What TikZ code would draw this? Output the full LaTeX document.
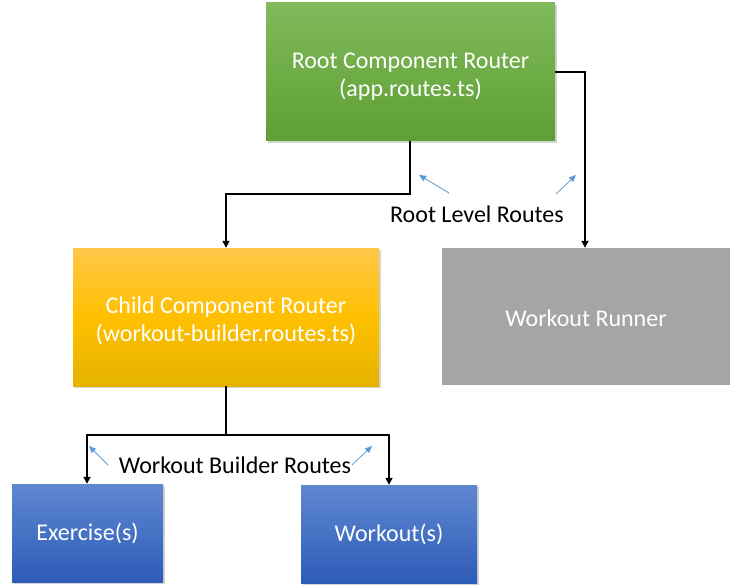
\documentclass[tikz,border=0pt]{standalone}
\usepackage{fontspec}
\setmainfont{Carlito}
\usetikzlibrary{shadows,arrows.meta}
\definecolor{gtop}{HTML}{80BA5C}
\definecolor{gbot}{HTML}{5E9F32}
\definecolor{ytop}{HTML}{FFC748}
\definecolor{ymid}{HTML}{FFC000}
\definecolor{ybot}{HTML}{E5B300}
\definecolor{btop}{HTML}{5F88D2}
\definecolor{bbot}{HTML}{2D5CB7}
\definecolor{runner}{HTML}{A5A5A5}
\definecolor{hint}{HTML}{5B9BD5}
\newcommand{\pushdown}[1]{\rule{0pt}{#1}}
\tikzset{
  box/.style={rectangle, inner sep=0pt, text=white, align=center, font=\fontsize{24}{28}\selectfont,
    drop shadow={shadow xshift=1.5pt, shadow yshift=-2pt, opacity=0.35}},
  conn/.style={draw=black, line width=1.6pt, -{Triangle[length=7pt,width=7pt]}},
  plain/.style={draw=black, line width=1.6pt},
  hintarrow/.style={draw=hint, line width=0.8pt, -{Triangle[length=7pt,width=6pt]}},
  lbl/.style={font=\fontsize{24}{28}\selectfont, text=black, inner sep=1pt}
}
\begin{document}
\begin{tikzpicture}[x=1pt,y=-1pt]
\useasboundingbox (0,0) rectangle (746,585);
\node[box, minimum width=289pt, minimum height=138pt, top color=gtop, bottom color=gbot] (root) at (410.5,72) {\pushdown{25pt}Root Component Router\\(app.routes.ts)};
\node[box, minimum width=306pt, minimum height=138pt, top color=ytop, bottom color=ybot, middle color=ymid] (child) at (226,317) {\pushdown{25pt}Child Component Router\\(workout-builder.routes.ts)};
\node[rectangle, fill=runner, minimum width=288pt, minimum height=137pt, text=white, font=\fontsize{24}{28}\selectfont] (runner) at (586,316.5) {\pushdown{21pt}Workout Runner};
\node[box, minimum width=151pt, minimum height=98pt, top color=btop, bottom color=bbot] (ex) at (87.5,533) {\pushdown{19pt}Exercise(s)};
\node[box, minimum width=176pt, minimum height=98pt, top color=btop, bottom color=bbot] (wo) at (389,534) {\pushdown{19pt}Workout(s)};

\coordinate (r1) at (410,194);
\coordinate (r2) at (226,194);
\coordinate (r3) at (585,72);
\coordinate (c1) at (226,435);
\coordinate (c2) at (87,435);
\coordinate (c3) at (389,435);

\draw[conn] (root.south -| r1) -- (r1) -- (r2) -- (child.north);
\draw[conn] (root.east |- r3) -- (r3) -- (runner.north -| r3);
\draw[plain] (child.south) -- (c1);
\draw[conn] (c1) -- (c2) -- (ex.north -| c2);
\draw[conn] (c1) -- (c3) -- (wo.north -| c3);

\node[lbl] (rl) at (477,214) {Root Level Routes};
\node[lbl] (wb) at (235,465) {Workout Builder Routes};

\coordinate (h1s) at (449,193); \coordinate (h1e) at (419,175);
\coordinate (h2s) at (556,194); \coordinate (h2e) at (576,175);
\coordinate (h3s) at (108,465); \coordinate (h3e) at (89,446);
\coordinate (h4s) at (352,465); \coordinate (h4e) at (372,446);
\draw[hintarrow] (h1s) -- (h1e);
\draw[hintarrow] (h2s) -- (h2e);
\draw[hintarrow] (h3s) -- (h3e);
\draw[hintarrow] (h4s) -- (h4e);
\end{tikzpicture}
\end{document}
